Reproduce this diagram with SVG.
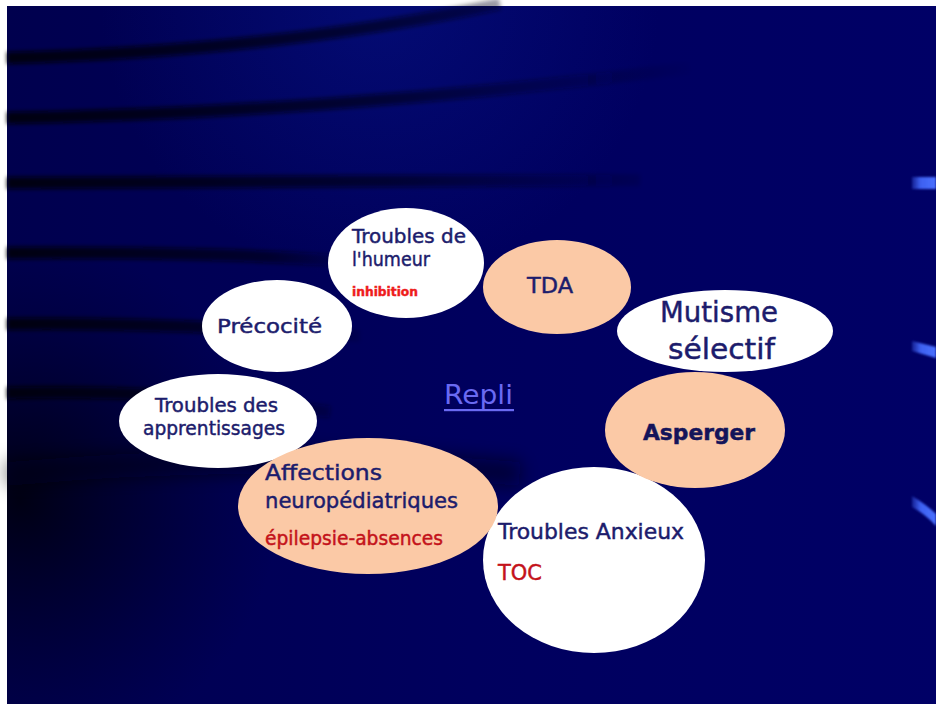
<svg xmlns="http://www.w3.org/2000/svg" width="936" height="704" viewBox="0 0 936 704">
<defs>
<linearGradient id="bg" x1="0" y1="0" x2="1" y2="0">
<stop offset="0" stop-color="#00004e"/>
<stop offset="0.5" stop-color="#00005e"/>
<stop offset="1" stop-color="#000066"/>
</linearGradient>
<radialGradient id="hi" cx="380" cy="0" r="280" gradientUnits="userSpaceOnUse">
<stop offset="0" stop-color="#061488" stop-opacity="0.55"/>
<stop offset="1" stop-color="#061488" stop-opacity="0"/>
</radialGradient>
<radialGradient id="dk" cx="20" cy="500" r="260" gradientUnits="userSpaceOnUse">
<stop offset="0" stop-color="#000010" stop-opacity="0.95"/>
<stop offset="0.5" stop-color="#000020" stop-opacity="0.5"/>
<stop offset="1" stop-color="#000030" stop-opacity="0"/>
</radialGradient>
<linearGradient id="fade" gradientUnits="userSpaceOnUse" x1="7" y1="0" x2="700" y2="0">
<stop offset="0" stop-color="#000008" stop-opacity="0.95"/>
<stop offset="0.55" stop-color="#000010" stop-opacity="0.6"/>
<stop offset="1" stop-color="#000020" stop-opacity="0"/>
</linearGradient>
<linearGradient id="fade2" gradientUnits="userSpaceOnUse" x1="7" y1="0" x2="380" y2="0">
<stop offset="0" stop-color="#000008" stop-opacity="0.95"/>
<stop offset="0.7" stop-color="#000010" stop-opacity="0.6"/>
<stop offset="1" stop-color="#000020" stop-opacity="0"/>
</linearGradient>
<linearGradient id="mark" gradientUnits="userSpaceOnUse" x1="910" y1="0" x2="936" y2="0">
<stop offset="0" stop-color="#3a5ae8" stop-opacity="0.2"/>
<stop offset="0.4" stop-color="#3d60f0"/>
<stop offset="1" stop-color="#4a70ff"/>
</linearGradient>
<filter id="blur" filterUnits="userSpaceOnUse" x="0" y="0" width="936" height="704">
<feGaussianBlur stdDeviation="2.2"/>
</filter>
<filter id="blurm" filterUnits="userSpaceOnUse" x="0" y="0" width="936" height="704">
<feGaussianBlur stdDeviation="1.2"/>
</filter>
<filter id="blur2" filterUnits="userSpaceOnUse" x="0" y="380" width="700" height="180">
<feGaussianBlur stdDeviation="9"/>
</filter>
</defs>
<style>
text{font-family:"DejaVu Sans",sans-serif;fill:#1c1c6c;stroke:#1c1c6c;stroke-width:0.45}
.w{fill:#ffffff}
.p{fill:#fbc9a6}
text.red{fill:#ee1c1c;stroke:#ee1c1c}
text.dred{fill:#c4121a;stroke:#c4121a}
text.bold{fill:#14145a;stroke:#14145a}
text.link{fill:#6a6af2;stroke:none}
.stripe{fill:none;stroke:url(#fade);stroke-width:12;filter:url(#blur)}
.stripe2{fill:none;stroke:url(#fade2);stroke-width:12;filter:url(#blur)}
</style>
<rect width="936" height="704" fill="#ffffff"/>
<g id="background">
<rect x="7" y="6" width="929" height="698" fill="url(#bg)"/>
<rect x="7" y="6" width="929" height="698" fill="url(#hi)"/>
<rect x="7" y="6" width="929" height="698" fill="url(#dk)"/>
<path class="stripe" d="M7,58 C160,54 330,40 500,4"/>
<path class="stripe" d="M7,118 C200,115 440,100 690,68"/>
<path class="stripe" d="M7,183 L640,180"/>
<path class="stripe2" d="M7,253 C150,252 280,256 360,262"/>
<path class="stripe2" d="M7,324 C150,322 260,330 360,336"/>
<path class="stripe2" d="M7,393 C120,390 220,396 330,412"/>
<path d="M7,474 C140,462 300,455 520,474" fill="none" stroke="#000010" stroke-opacity="0.55" stroke-width="24" filter="url(#blur2)"/>
<path d="M912,177 L936,177 L936,189 L912,189 Z" fill="url(#mark)" filter="url(#blurm)"/>
<path d="M912,341 L936,347 L936,358 L912,351 Z" fill="url(#mark)" filter="url(#blurm)"/>
<path d="M912,496 C922,502 930,508 936,514 L936,526 C930,519 921,512 912,507 Z" fill="url(#mark)" filter="url(#blurm)"/>
</g>
<g id="connectors"></g>
<g id="precocite">
<ellipse class="w" cx="277" cy="326" rx="75" ry="46"/>
<text x="217" y="333" font-size="19" textLength="105" lengthAdjust="spacingAndGlyphs">Précocité</text>
</g>
<g id="humeur">
<ellipse class="w" cx="406" cy="263" rx="78" ry="55"/>
<text x="352" y="243" font-size="19" textLength="114" lengthAdjust="spacingAndGlyphs">Troubles de</text>
<text x="352" y="266" font-size="19" textLength="78" lengthAdjust="spacingAndGlyphs">l'humeur</text>
<text class="red" x="352" y="296" font-size="13" font-weight="bold" textLength="66" lengthAdjust="spacingAndGlyphs">inhibition</text>
</g>
<g id="tda">
<ellipse class="p" cx="557" cy="287" rx="74" ry="47"/>
<text x="527" y="293" font-size="21" textLength="46" lengthAdjust="spacingAndGlyphs">TDA</text>
</g>
<g id="mutisme">
<ellipse class="w" cx="725" cy="331" rx="108" ry="41"/>
<text x="660" y="322" font-size="28" textLength="118" lengthAdjust="spacingAndGlyphs">Mutisme</text>
<text x="668" y="359" font-size="28" textLength="107" lengthAdjust="spacingAndGlyphs">sélectif</text>
</g>
<g id="anxieux">
<ellipse class="w" cx="594" cy="560" rx="111" ry="93"/>
<text x="498" y="539" font-size="21" textLength="186" lengthAdjust="spacingAndGlyphs">Troubles Anxieux</text>
<text class="dred" x="498" y="580" font-size="21" textLength="44" lengthAdjust="spacingAndGlyphs">TOC</text>
</g>
<g id="asperger">
<ellipse class="p" cx="695" cy="430" rx="90" ry="58"/>
<text class="bold" x="643" y="440" font-size="21" font-weight="bold" textLength="112" lengthAdjust="spacingAndGlyphs">Asperger</text>
</g>
<g id="apprentissages">
<ellipse class="w" cx="218" cy="421" rx="99" ry="47"/>
<text x="155" y="412" font-size="19" textLength="123" lengthAdjust="spacingAndGlyphs">Troubles des</text>
<text x="143" y="435" font-size="19" textLength="142" lengthAdjust="spacingAndGlyphs">apprentissages</text>
</g>
<g id="affections">
<ellipse class="p" cx="368" cy="506" rx="130" ry="68"/>
<text x="265" y="480" font-size="21" textLength="117" lengthAdjust="spacingAndGlyphs">Affections</text>
<text x="265" y="508" font-size="21" textLength="193" lengthAdjust="spacingAndGlyphs">neuropédiatriques</text>
<text class="dred" x="265" y="545" font-size="19" textLength="178" lengthAdjust="spacingAndGlyphs">épilepsie-absences</text>
</g>
<g id="repli">
<text class="link" x="444" y="404" font-size="26" textLength="69" lengthAdjust="spacingAndGlyphs">Repli</text>
<rect x="444" y="409" width="70" height="2.2" fill="#6a6af2"/>
</g>
</svg>
